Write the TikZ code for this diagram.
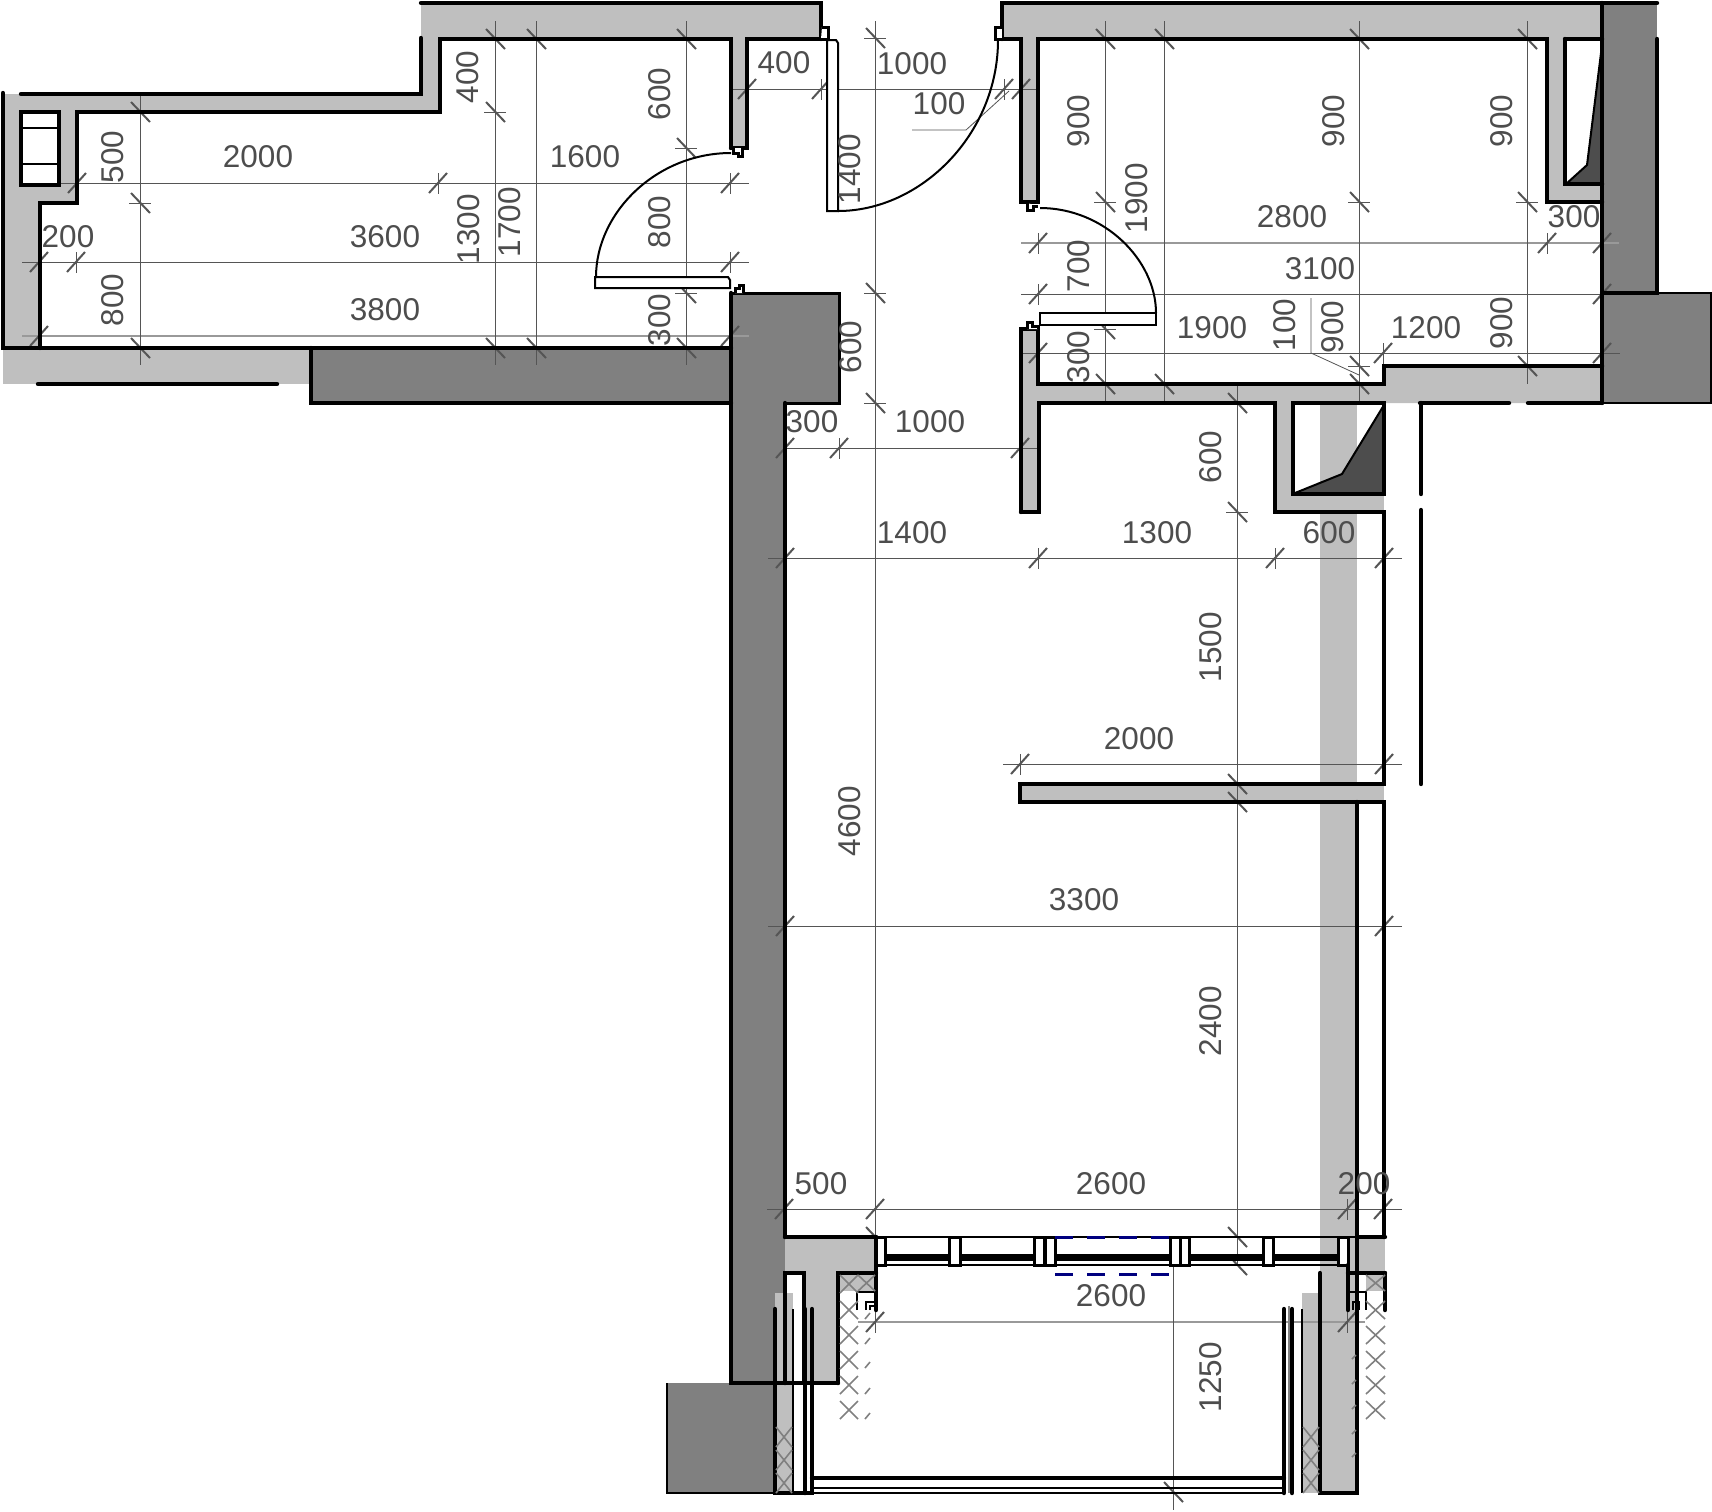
\documentclass[tikz,border=0pt]{standalone}
\usepackage{fontspec}
\setmainfont{Liberation Sans}
\definecolor{wallgray}{HTML}{BFBFBF}
\definecolor{slabgray}{HTML}{808080}
\definecolor{ductgray}{HTML}{4D4D4D}
\definecolor{dimgray}{HTML}{555555}
\definecolor{dimlight}{HTML}{999999}
\definecolor{hidblue}{HTML}{00007F}
\tikzset{
  wall/.style={line width=2.2pt, line cap=round, line join=miter},
  midwall/.style={line width=1.5pt},
  door/.style={line width=1pt},
  fineline/.style={line width=0.7pt},
  dimline/.style={line width=0.5pt, dimgray},
  dimlinelt/.style={line width=1pt, dimlight},
  dimtick/.style={line width=1pt, dimgray},
  dimstub/.style={line width=0.4pt, dimgray},
  dimlabel/.style={text=ductgray, font=\fontsize{15.75}{16}\selectfont, inner sep=0pt},
  hatch/.style={line width=0.8pt, gray},
  hiddenline/.style={line width=1.5pt, hidblue, dash pattern=on 9pt off 7pt},
}
% horizontal dimension: y, from, to, ticks
\newcommand{\dimh}[5][dimline]{%
  \draw[#1] (#3,#2) -- (#4,#2);
  \foreach \t in {#5} {
    \draw[dimtick] (\t-9,#2+10) -- (\t+9,#2-10);
    \draw[dimstub] (\t,#2-10) -- (\t,#2+11);
  }
}
% vertical dimension: x, from, to, ticks
\newcommand{\dimv}[5][dimline]{%
  \draw[#1] (#2,#3) -- (#2,#4);
  \foreach \t in {#5} {
    \draw[dimtick] (#2-9,\t-10) -- (#2+10,\t+10);
    \draw[dimstub] (#2-11,\t) -- (#2+11,\t);
  }
}
\begin{document}
\begin{tikzpicture}[x=0.5pt, y=-0.5pt]
\useasboundingbox (0,0) rectangle (1712,1511);
% light walls, left room
\fill[wallgray] (421,3)--(821,3)--(821,39)--(747,39)--(747,148)--(731,148)--(731,39)--(440,39)--(440,112)--(77,112)--(77,203)--(40,203)--(40,348)--(3,348)--(3,94)--(421,94)--cycle;
\fill[wallgray] (3,348) rectangle (311,384);
\fill[white] (21,112) rectangle (59,185);
% light walls, right room
\fill[wallgray] (1002,3)--(1602,3)--(1602,202)--(1547,202)--(1547,39)--(1038,39)--(1038,202)--(1021,202)--(1021,39)--(1002,39)--cycle;
\fill[wallgray] (1021,329)--(1038,329)--(1038,384)--(1384,384)--(1384,366)--(1602,366)--(1602,403)--(1039,403)--(1039,512)--(1021,512)--cycle;
\fill[wallgray] (1275,403) rectangle (1384,512);
\fill[white] (1565,39) rectangle (1602,184);
\fill[white] (1293,403) rectangle (1384,494);
\fill[wallgray] (1320,403) rectangle (1357,1493);
\fill[wallgray] (1020,784) rectangle (1384,802);
\fill[wallgray] (1357,1237) rectangle (1385,1273);
\fill[wallgray] (785,1237) -- (876,1237) -- (876,1273) -- (838,1273) -- (838,1383) -- (804,1383) -- (804,1273) -- (785,1273) -- cycle;
\fill[wallgray] (775,1293) rectangle (793,1493);
\fill[wallgray] (1302,1293) rectangle (1320,1493);
\fill[wallgray] (839,1274) rectangle (876,1291);
\fill[wallgray] (1366,1274) rectangle (1385,1291);
% structure
\fill[slabgray] (311,348) rectangle (731,403);
\fill[slabgray] (731,293) rectangle (839,403);
\fill[slabgray] (731,403) rectangle (785,1383);
\fill[slabgray] (667,1383) rectangle (775,1493);
\fill[wallgray] (775,1293) rectangle (785,1383);
\fill[slabgray] (1602,3) rectangle (1657,293);
\fill[slabgray] (1602,293) rectangle (1711,403);
% ducts
\fill[ductgray] (1602,45)--(1587,165)--(1566,184)--(1602,184)--cycle;
\fill[ductgray] (1384,405)--(1342,474)--(1295,493)--(1384,494)--cycle;
\draw[door] (1602,45)--(1587,165)--(1566,184);
\draw[door] (1384,405)--(1342,474)--(1295,493);
%
% dimensions, left room
\dimh{183}{60}{749}{77,438,730}
\dimh{262}{22}{749}{39,76,730}
\dimh[dimlinelt]{336}{22}{749}{39,730}
\dimv{140}{94}{365}{112,203,348}
\dimv{495}{21}{365}{39,112,348}
\dimv{536}{21}{365}{39,348}
\dimv{686}{21}{365}{39,148,293,348}
% dimensions, hall
\dimh{89}{730}{1038}{747,821,1004,1021}
\dimv{875}{21}{1333}{38,293,403,1237}
\dimh{448}{785}{1038}{785,839,1020}
% dimensions, right room
\dimh[dimlinelt]{243}{1021}{1619}{1038,1547,1602}
\dimh{294}{1021}{1620}{1038,1602}
\dimh{353}{1021}{1620}{1038,1383,1602}
\dimv{1105}{21}{403}{39,202,329,384}
\dimv{1164}{21}{403}{39,384}
\dimv{1359}{21}{403}{39,202,366,384}
\dimv{1527}{21}{384}{39,202,366}
% dimensions, big room
\dimh{558}{768}{1402}{785,1038,1275,1384}
\dimh{764}{1003}{1402}{1020,1384}
\dimh{926}{768}{1402}{785,1384}
\dimh{1209}{767}{1402}{784,875,1347,1383}
\dimh[dimlinelt]{1322}{858}{1365}{875,1347}
\dimv{1237}{384}{1265}{403,512,784,802,1237,1265}
\dimv{1173}{1247}{1510}{1492}
% leaders
\draw[dimstub] (912,130)--(966,130)--(1009,91);
\draw[dimstub] (1311,298)--(1311,353)--(1359,375);
%
% walls, left room
\draw[wall] (421,3)--(821,3)--(821,39);
\draw[wall] (21,94)--(421,94)--(421,38);
\draw[wall] (731,148)--(731,39)--(440,39)--(440,112)--(77,112)--(77,203)--(40,203)--(40,348);
\draw[wall] (3,93)--(3,348)--(731,348);
\draw[wall] (821,39)--(747,39)--(747,148)--(731,148);
\draw[wall] (38,384)--(277,384);
\draw[wall] (21,112) rectangle (59,185);
\draw[door] (21,128)--(59,128);
\draw[door] (21,164)--(59,164);
% structure lines
\draw[wall] (311,348)--(311,403)--(731,403);
\draw[wall] (731,293)--(731,1383)--(838,1383);
\draw[wall] (785,403)--(785,1237);
\draw[midwall] (731,293)--(839,293)--(839,403)--(785,403);
\draw[door] (1602,293)--(1711,293)--(1711,403)--(1602,403);
\draw[door] (667,1383)--(667,1493)--(775,1493);
% walls, right room
\draw[wall] (1002,39)--(1002,3)--(1657,3);
\draw[wall] (1002,39)--(1021,39)--(1021,202)--(1038,202)--(1038,39)--(1547,39)--(1547,202)--(1602,202);
\draw[wall] (1565,39)--(1565,184)--(1602,184);
\draw[wall] (1565,39)--(1602,39);
\draw[wall] (1602,3)--(1602,403);
\draw[wall] (1657,39)--(1657,293)--(1602,293);
\draw[wall] (1021,512)--(1021,329)--(1038,329)--(1038,384)--(1384,384)--(1384,366)--(1602,366);
\draw[wall] (1021,512)--(1039,512)--(1039,403)--(1275,403)--(1275,512)--(1384,512)--(1384,784)--(1020,784)--(1020,802)--(1384,802)--(1384,1237);
\draw[wall] (1293,403)--(1293,494)--(1384,494)--(1384,403)--cycle;
\draw[wall] (1420,403)--(1509,403);
\draw[wall] (1528,403)--(1602,403);
\draw[wall] (1421,403)--(1421,494);
\draw[wall] (1421,510)--(1421,784);
\draw[wall] (1357,802)--(1357,1493)--(1320,1493)--(1320,1273);
%
% doors
\draw[door, fill=white] (595,277)--(728,277)--(730,280)--(730,288)--(595,288)--cycle;
\draw[door] (731,153) .. controls (656,153) and (596,213) .. (596,277);
\draw[midwall, fill=white] (733,148)--(733,153)--(738,153)--(738,156)--(742,156)--(742,148);
\draw[midwall, fill=white] (735,293)--(735,288)--(739,288)--(739,285)--(743,285)--(743,293);
\draw[door, fill=white] (827,40)--(836,40)--(838,43)--(838,211)--(827,211)--cycle;
\draw[door] (998,40) .. controls (998,134) and (921,211) .. (838,211);
\draw[midwall, fill=white] (1002,39)--(995,39)--(995,27)--(1002,27);
\draw[midwall, fill=white] (821,39)--(828,39)--(828,27)--(822,27);
\draw[door, fill=white] (1040,313)--(1156,313)--(1156,325)--(1040,325)--cycle;
\draw[door] (1040,208) .. controls (1104,208) and (1156,260) .. (1156,313);
\draw[midwall, fill=white] (1027,203)--(1027,210)--(1033,210)--(1033,206)--(1038,206);
\draw[midwall, fill=white] (1027,329)--(1027,322)--(1032,322)--(1032,326)--(1038,326)--(1038,329);
%
% window
\draw[door] (785,1237)--(1385,1237);
\draw[wall] (785,1237)--(876,1237);
\draw[wall] (1357,1237)--(1385,1237);
\draw[line width=3.5pt] (885,1257)--(1338,1257);
\draw[door] (876,1265)--(1348,1265);
\foreach \mx/\my in {876/885,949/960,1034/1044,1045/1055,1170/1180,1180/1189,1263/1273,1338/1348}
  \draw[midwall, fill=white] (\mx,1237) rectangle (\my,1265);
\draw[hiddenline] (1055,1237)--(1169,1237);
\draw[hiddenline] (1055,1274)--(1169,1274);
%
% balcony, left
\draw[wall] (785,1383)--(785,1273)--(804,1273)--(804,1383);
\draw[wall] (838,1383)--(838,1273)--(876,1273);
\draw[wall] (876,1237)--(876,1310);
\draw[door] (857,1310)--(857,1292)--(875,1292);
\draw[door] (866,1310)--(866,1302)--(875,1302);
\draw[door] (870,1310)--(870,1306)--(875,1306);
\draw[wall] (775,1309)--(775,1493)--(812,1493)--(812,1309);
\draw[wall] (805,1309)--(805,1493);
\draw[door] (793,1309)--(793,1493);
\foreach \cy in {1284,1310,1335,1360,1385,1410} {
  \draw[hatch] (840,\cy-9)--(858,\cy+9);
  \draw[hatch] (840,\cy+9)--(858,\cy-9);
}
\foreach \cy in {1316,1341,1365,1391,1416}
  \draw[hatch] (865,\cy+3)--(870,\cy-3);
\draw[hatch] (858,1275)--(875,1291) (858,1291)--(875,1275);
\foreach \cy in {1437,1460,1483} {
  \draw[hatch] (776,\cy-10)--(792,\cy+10);
  \draw[hatch] (776,\cy+10)--(792,\cy-10);
}
% balcony, right
\draw[wall] (1385,1273)--(1385,1310);
\draw[wall] (1348,1265)--(1348,1310);
\draw[wall] (1348,1273)--(1385,1273);
\draw[door] (1348,1292)--(1366,1292)--(1366,1310);
\draw[door] (1353,1310)--(1353,1302)--(1359,1302)--(1359,1310);
\draw[wall] (1284,1309)--(1284,1493);
\draw[wall] (1292,1309)--(1292,1493);
\draw[door, gray] (1289,1306)--(1289,1493);
\draw[door] (1302,1309)--(1302,1493);
\foreach \cy in {1310,1335,1360,1385,1410} {
  \draw[hatch] (1366,\cy-9)--(1385,\cy+9);
  \draw[hatch] (1366,\cy+9)--(1385,\cy-9);
}
\foreach \cy in {1357,1382,1407,1432,1455}
  \draw[hatch] (1352,\cy+2)--(1356,\cy-2);
\draw[hatch] (1366,1275)--(1385,1291) (1366,1291)--(1385,1275);
\foreach \cy in {1437,1460,1483} {
  \draw[hatch] (1303,\cy-10)--(1319,\cy+10);
  \draw[hatch] (1303,\cy+10)--(1319,\cy-10);
}
% balcony door
\draw[wall] (812,1478)--(1284,1478);
\draw[door] (812,1488)--(1284,1488);
\draw[fineline] (812,1493)--(1284,1493);
%
% labels
\foreach \lx/\ly/\lt [count=\n] in {258/156/2000,585/156/1600,68/236/200,385/236/3600,385/309/3800,784/62/400,912/63/1000,939/103/100,812/421/300,930/421/1000,912/532/1400,1157/532/1300,1329/532/600,1139/738/2000,1084/899/3300,821/1183/500,1111/1183/2600,1364/1183/200,1111/1295/2600,1292/216/2800,1574/216/300,1320/268/3100,1212/327/1900,1426/327/1200}
  \node[dimlabel] (dimh\n) at (\lx,\ly+1) {\lt};
\foreach \lx/\ly/\lt [count=\n] in {113/157/500,113/300/800,468/77/400,469/229/1300,510/222/1700,660/94/600,660/222/800,660/320/300,850/169/1400,851/347/600,850/821/4600,1079/121/900,1079/266/700,1079/357/300,1137/198/1900,1334/121/900,1333/327/900,1285/325/100,1502/121/900,1502/323/900,1211/457/600,1211/647/1500,1211/1021/2400,1211/1377/1250}
  \node[dimlabel, rotate=90] (dimv\n) at (\lx,\ly) {\lt};
\end{tikzpicture}
\end{document}
